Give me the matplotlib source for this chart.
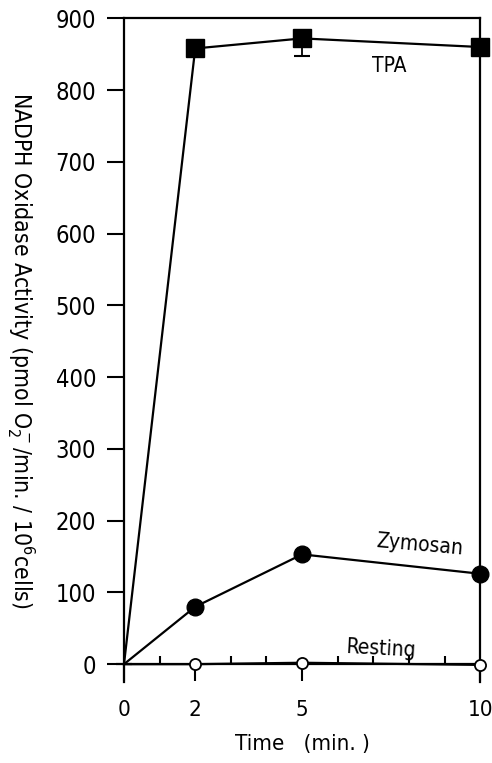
import matplotlib
matplotlib.use("Agg")
import matplotlib.pyplot as plt
from matplotlib.ticker import MultipleLocator, FixedLocator

plt.rcParams['font.family'] = ['DejaVu Sans']
plt.rcParams['font.stretch'] = 'condensed'
plt.rcParams['mathtext.fontset'] = 'dejavusans'

time = [0, 2, 5, 10]
tpa = [0, 858, 872, 860]
tpa_err_low = [0, 0, 24, 0]
zymosan = [0, 80, 153, 126]
resting = [0, 0, 2, -1]
xticks = [0, 2, 5, 10]
yticks = list(range(0, 1000, 100))

fig = plt.figure(figsize=(4.92, 7.63), dpi=100)
ax = fig.add_axes([0.252, 0.106, 0.724, 0.870])

mk = [1, 2, 3]
ax.plot(time, tpa, '-', color='black', lw=1.6, marker='s', ms=13, mfc='black', markevery=mk, clip_on=False, zorder=3)
ax.errorbar(time, tpa, yerr=[tpa_err_low, [0]*4], fmt='none', ecolor='black', elinewidth=1.3, capsize=6, capthick=1.5, clip_on=False)
ax.plot(time, zymosan, '-', color='black', lw=1.6, marker='o', ms=12, mfc='black', markevery=mk, clip_on=False, zorder=3)
ax.plot(time, resting, '-', color='black', lw=1.6, marker='o', ms=8, mfc='white', mew=1.3, markevery=mk, clip_on=False, zorder=4)

ax.set_xlim(0, 10)
ax.set_ylim(-25, 900)
ax.spines['bottom'].set_position(('data', 0))
for s in ax.spines.values():
    s.set_linewidth(1.6)

ax.xaxis.set_major_locator(FixedLocator(xticks))
ax.xaxis.set_minor_locator(MultipleLocator(1))
ax.yaxis.set_major_locator(FixedLocator(yticks))
ax.tick_params(axis='x', which='major', direction='out', length=12, width=1.5, labelsize=16, pad=14)
ax.tick_params(axis='x', which='minor', direction='in', length=6, width=1.5)
ax.tick_params(axis='y', which='major', direction='out', length=12, width=1.5, labelsize=17, pad=8)
ax.tick_params(top=False, right=False)

ax.set_xlabel('Time   (min. )', fontsize=16, labelpad=10)
ax.set_ylabel(r'NADPH Oxidase Activity (pmol O$_2^-$/min. / 10$^6$cells)', fontsize=16.5, rotation=270, va='center')
ax.yaxis.set_label_coords(-0.29, 0.5)

ax.text(7.45, 834, 'TPA', fontsize=15, ha='center', va='center')
ax.text(8.3, 166, 'Zymosan', fontsize=15, ha='center', va='center', rotation=-5)
ax.text(7.2, 21, 'Resting', fontsize=15, ha='center', va='center', rotation=-3)

fig.savefig('out.png', dpi=100)
